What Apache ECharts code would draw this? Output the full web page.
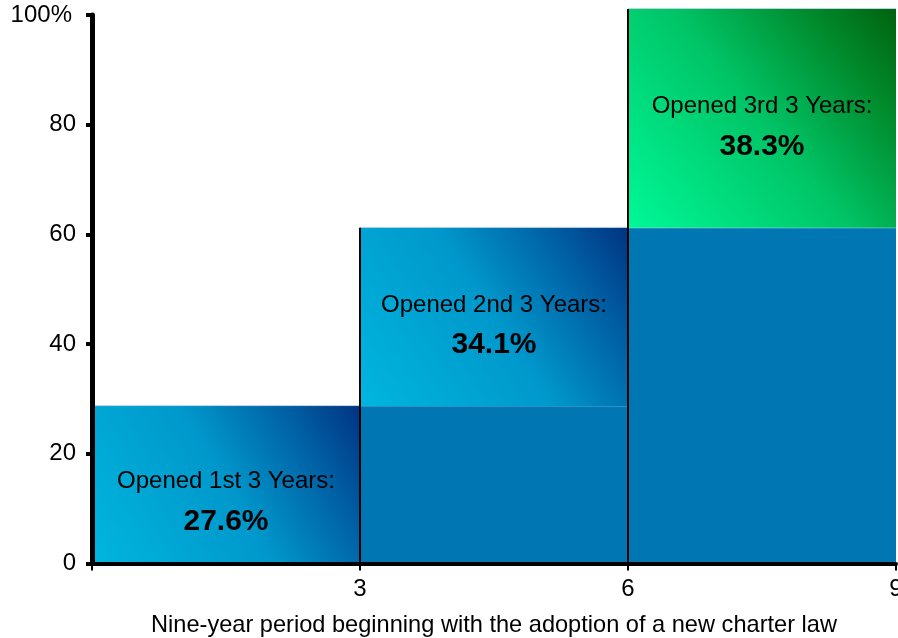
<!DOCTYPE html>
<html>
<head>
<meta charset="utf-8">
<script src="https://cdn.jsdelivr.net/npm/echarts@6/dist/echarts.min.js"></script>
<style>
html,body{margin:0;padding:0;background:#fff;}
#chart{width:898px;height:638px;}
</style>
</head>
<body>
<div id="chart"></div>
<script>
// ---- data ----
const periodLabels = ['Opened 1st 3 Years:', 'Opened 2nd 3 Years:', 'Opened 3rd 3 Years:'];
const shareText = ['27.6%', '34.1%', '38.3%'];
const periodStart = [0, 3, 6];
const periodEnd = [3, 6, 9];
const segmentHeights = [28.7, 32.5, 39.9];   // heights (stacked)
const xTickValues = [3, 6, 9];
const axisTitle = 'Nine-year period beginning with the adoption of a new charter law';

// ---- layout / style (not data) ----
const labelNudgePx = [9, 0, 0];
const FONT = '"Liberation Sans", Arial, Helvetica, sans-serif';
const solidBlue = '#0077b3';
const blueStops = [
  {offset: 0, color: '#00b6de'}, {offset: 0.5, color: '#0098cc'},
  {offset: 0.8, color: '#005ea3'}, {offset: 1, color: '#003381'}
];
const greenStops = [
  {offset: 0, color: '#00f898'}, {offset: 0.5, color: '#00c466'},
  {offset: 0.8, color: '#008a2c'}, {offset: 1, color: '#00620e'}
];
const gradStops = [blueStops, blueStops, greenStops];

// ---- build series data ----
const seriesData = [];
let base = 0;
for (let i = 0; i < segmentHeights.length; i++) {
  seriesData.push([periodStart[i], periodEnd[i], base, base + segmentHeights[i], i]);
  base += segmentHeights[i];
}

function renderItem(params, api) {
  const x0 = api.value(0), x1 = api.value(1), b = api.value(2), t = api.value(3), idx = api.value(4);
  const pBL = api.coord([x0, 0]);
  const pBase = api.coord([x0, b]);
  const pTR = api.coord([x1, t]);
  const w = pTR[0] - pBL[0];
  const children = [];
  if (b > 0) {
    children.push({type: 'rect', shape: {x: pBL[0], y: pBase[1], width: w, height: pBL[1] - pBase[1]},
      style: {fill: solidBlue}});
    children.push({type: 'line', shape: {x1: pBL[0], y1: pBase[1] + 0.5, x2: pTR[0], y2: pBase[1] + 0.5},
      style: {stroke: 'rgba(140,200,230,0.35)', lineWidth: 1}});
  }
  children.push({type: 'rect', shape: {x: pBL[0], y: pTR[1], width: w, height: pBase[1] - pTR[1]},
    style: {fill: new echarts.graphic.LinearGradient(0, 1, 1, 0, gradStops[idx])}});
  children.push({type: 'line', shape: {x1: pBL[0], y1: pTR[1] - 0.5, x2: pTR[0], y2: pTR[1] - 0.5},
    style: {stroke: 'rgba(170,200,220,0.8)', lineWidth: 1}});
  if (idx > 0) {
    children.push({type: 'line', shape: {x1: pBL[0], y1: pBL[1], x2: pBL[0], y2: pTR[1]},
      style: {stroke: '#000', lineWidth: 2}});
  }
  const cx = (pBL[0] + pTR[0]) / 2;
  const cy = (pBase[1] + pTR[1]) / 2 + 8 + labelNudgePx[idx];
  children.push({type: 'text', style: {text: periodLabels[idx], x: cx, y: cy - 20, align: 'center', verticalAlign: 'middle',
    font: '24px ' + FONT, fill: '#000'}});
  children.push({type: 'text', style: {text: shareText[idx], x: cx, y: cy + 20, align: 'center', verticalAlign: 'middle',
    font: 'bold 30px ' + FONT, fill: '#000'}});
  return {type: 'group', children: children};
}

const chart = echarts.init(document.getElementById('chart'), null, {renderer: 'canvas'});
chart.setOption({
  animation: false,
  grid: {left: 92, right: 2, top: 15, bottom: 74.5, containLabel: false, outerBoundsMode: 'none'},
  xAxis: {
    type: 'value', min: 0, max: 9, interval: 3, z: 10,
    name: axisTitle, nameLocation: 'middle', nameGap: 50,
    nameTextStyle: {fontFamily: FONT, fontSize: 23.6, color: '#000'},
    axisLine: {show: true, lineStyle: {color: '#000', width: 4}},
    axisTick: {show: true, length: 7, lineStyle: {color: '#000', width: 2}},
    axisLabel: {fontFamily: FONT, fontSize: 24, color: '#000', margin: 14,
      formatter: v => (xTickValues.indexOf(v) >= 0 ? String(v) : '')},
    splitLine: {show: false}
  },
  yAxis: {
    type: 'value', min: 0, max: 100, interval: 20, z: 10,
    axisLine: {show: true, lineStyle: {color: '#000', width: 5}},
    axisTick: {show: true, length: 6, lineStyle: {color: '#000', width: 4}},
    axisLabel: {fontFamily: FONT, fontSize: 24, color: '#000', margin: 16,
      formatter: v => (v === 100 ? '{p|100%}' : String(v)),
      rich: {p: {fontFamily: FONT, fontSize: 24, color: '#000', padding: [0, 4, 0, 0]}}},
    splitLine: {show: false}
  },
  series: [{
    type: 'custom', clip: false, renderItem: renderItem,
    encode: {x: [0, 1], y: [2, 3]},
    data: seriesData
  }]
});
</script>
</body>
</html>
